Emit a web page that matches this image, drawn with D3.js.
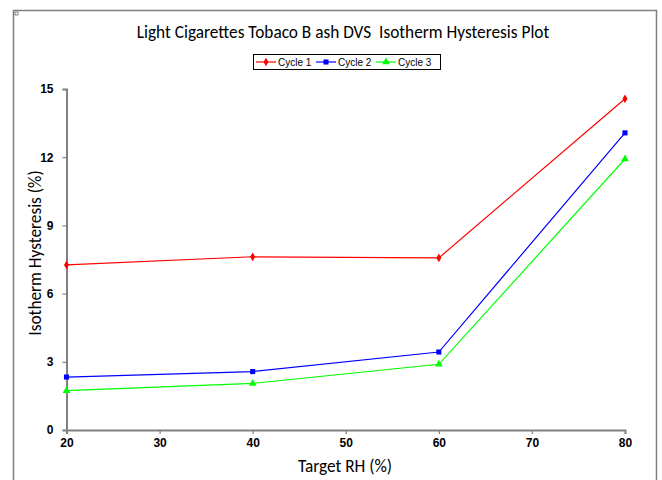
<!DOCTYPE html>
<html><head><meta charset="utf-8">
<script src="https://cdn.jsdelivr.net/npm/d3@7"></script>
<style>body{margin:0;background:#fff;}svg{display:block;}</style>
</head><body>
<script>
const rh = [20, 40, 60, 80];
const cycle1 = [7.26, 7.62, 7.57, 14.57];
const cycle2 = [2.33, 2.57, 3.43, 13.07];
const cycle3 = [1.73, 2.05, 2.89, 11.92];
const seriesNames = ["Cycle 1", "Cycle 2", "Cycle 3"];
const colors = ["#ff0000", "#0000ff", "#00ff00"];
const xTicks = [20, 30, 40, 50, 60, 70, 80];
const yTicks = [0, 3, 6, 9, 12, 15];

const W = 662, H = 480;
const svg = d3.select("body").append("svg").attr("width", W).attr("height", H);
svg.append("rect").attr("width", W).attr("height", H).attr("fill", "#fff");
// outer frame
svg.append("path").attr("d", `M13.5,${H+2} V10.5 H656.5 V${H+2}`).attr("fill","none").attr("stroke","#808080").attr("stroke-width",1.5);
svg.append("rect").attr("x",15).attr("y",12).attr("width",3).attr("height",3).attr("fill","none").attr("stroke","#666").attr("stroke-width",0.8);

const x = d3.scaleLinear().domain([20, 80]).range([66.5, 625]);
const y = d3.scaleLinear().domain([0, 15]).range([430, 89]);

const tickFont = "'Liberation Sans Narrow','Liberation Sans',Arial,sans-serif";

// y axis
const ya = svg.append("g").attr("transform", `translate(${x(20)},0)`)
  .call(d3.axisLeft(y).tickValues(yTicks).tickSize(4).tickPadding(9).tickFormat(d3.format("d")));
ya.select(".domain").attr("stroke","#808080").attr("stroke-width",2);
ya.selectAll(".tick line").attr("stroke","#808080").attr("stroke-width",1.2);
ya.selectAll(".tick text").attr("font-family",tickFont).attr("font-weight","bold").attr("font-size",12).attr("fill","#000");

// x axis
const xa = svg.append("g").attr("transform", `translate(0,${y(0)})`)
  .call(d3.axisBottom(x).tickValues(xTicks).tickSize(4).tickPadding(4).tickFormat(d3.format("d")));
xa.select(".domain").attr("stroke","#808080").attr("stroke-width",2);
xa.selectAll(".tick line").attr("stroke","#808080").attr("stroke-width",1.2);
xa.selectAll(".tick text").attr("font-family",tickFont).attr("font-weight","bold").attr("font-size",12).attr("fill","#000");

const titleFont = "Carlito,Lato,'Open Sans',sans-serif";
svg.append("text").attr("x", 343).attr("y", 38).attr("text-anchor","middle")
  .attr("font-family", titleFont).attr("font-size", 17.3).attr("fill","#000")
  .text("Light Cigarettes Tobaco B ash DVS  Isotherm Hysteresis Plot").style("white-space","pre");
svg.append("text").attr("x", 345).attr("y", 472).attr("text-anchor","middle")
  .attr("font-family", titleFont).attr("font-size", 17.3).attr("fill","#000").text("Target RH (%)");
svg.append("text").attr("transform","translate(41,253) rotate(-90)").attr("text-anchor","middle")
  .attr("font-family", titleFont).attr("font-size", 17.3).attr("fill","#000").text("Isotherm Hysteresis (%)");

const allSeries = [cycle1, cycle2, cycle3];
const line = d3.line().x(d => x(d[0])).y(d => y(d[1]));
const shapes = [d3.symbolDiamond, d3.symbolSquare, d3.symbolTriangle];
const sizes = [22, 26, 26];
allSeries.forEach((vals, i) => {
  const pts = rh.map((r, j) => [r, vals[j]]);
  svg.append("path").datum(pts).attr("d", line).attr("fill","none").attr("stroke", colors[i]).attr("stroke-width", 1.2);
  svg.selectAll(null).data(pts).enter().append("path")
    .attr("transform", d => `translate(${x(d[0])},${y(d[1])})`)
    .attr("d", d3.symbol().type(shapes[i]).size(sizes[i]))
    .attr("fill", colors[i]);
});

// legend
const lg = svg.append("g");
lg.append("rect").attr("x", 253.5).attr("y", 54.5).attr("width", 187).attr("height", 15)
  .attr("fill","#fff").attr("stroke","#000").attr("stroke-width",1);
const lx = [256, 316, 376];
seriesNames.forEach((n, i) => {
  lg.append("line").attr("x1", lx[i]).attr("x2", lx[i] + 20).attr("y1", 62).attr("y2", 62)
    .attr("stroke", colors[i]).attr("stroke-width", 1.2);
  lg.append("path").attr("transform", `translate(${lx[i]+10},62)`)
    .attr("d", d3.symbol().type(shapes[i]).size(sizes[i])).attr("fill", colors[i]);
  lg.append("text").attr("x", lx[i] + 22).attr("y", 66).attr("font-family", tickFont)
    .attr("font-size", 10).attr("fill","#000").text(n);
});
</script>
</body></html>
